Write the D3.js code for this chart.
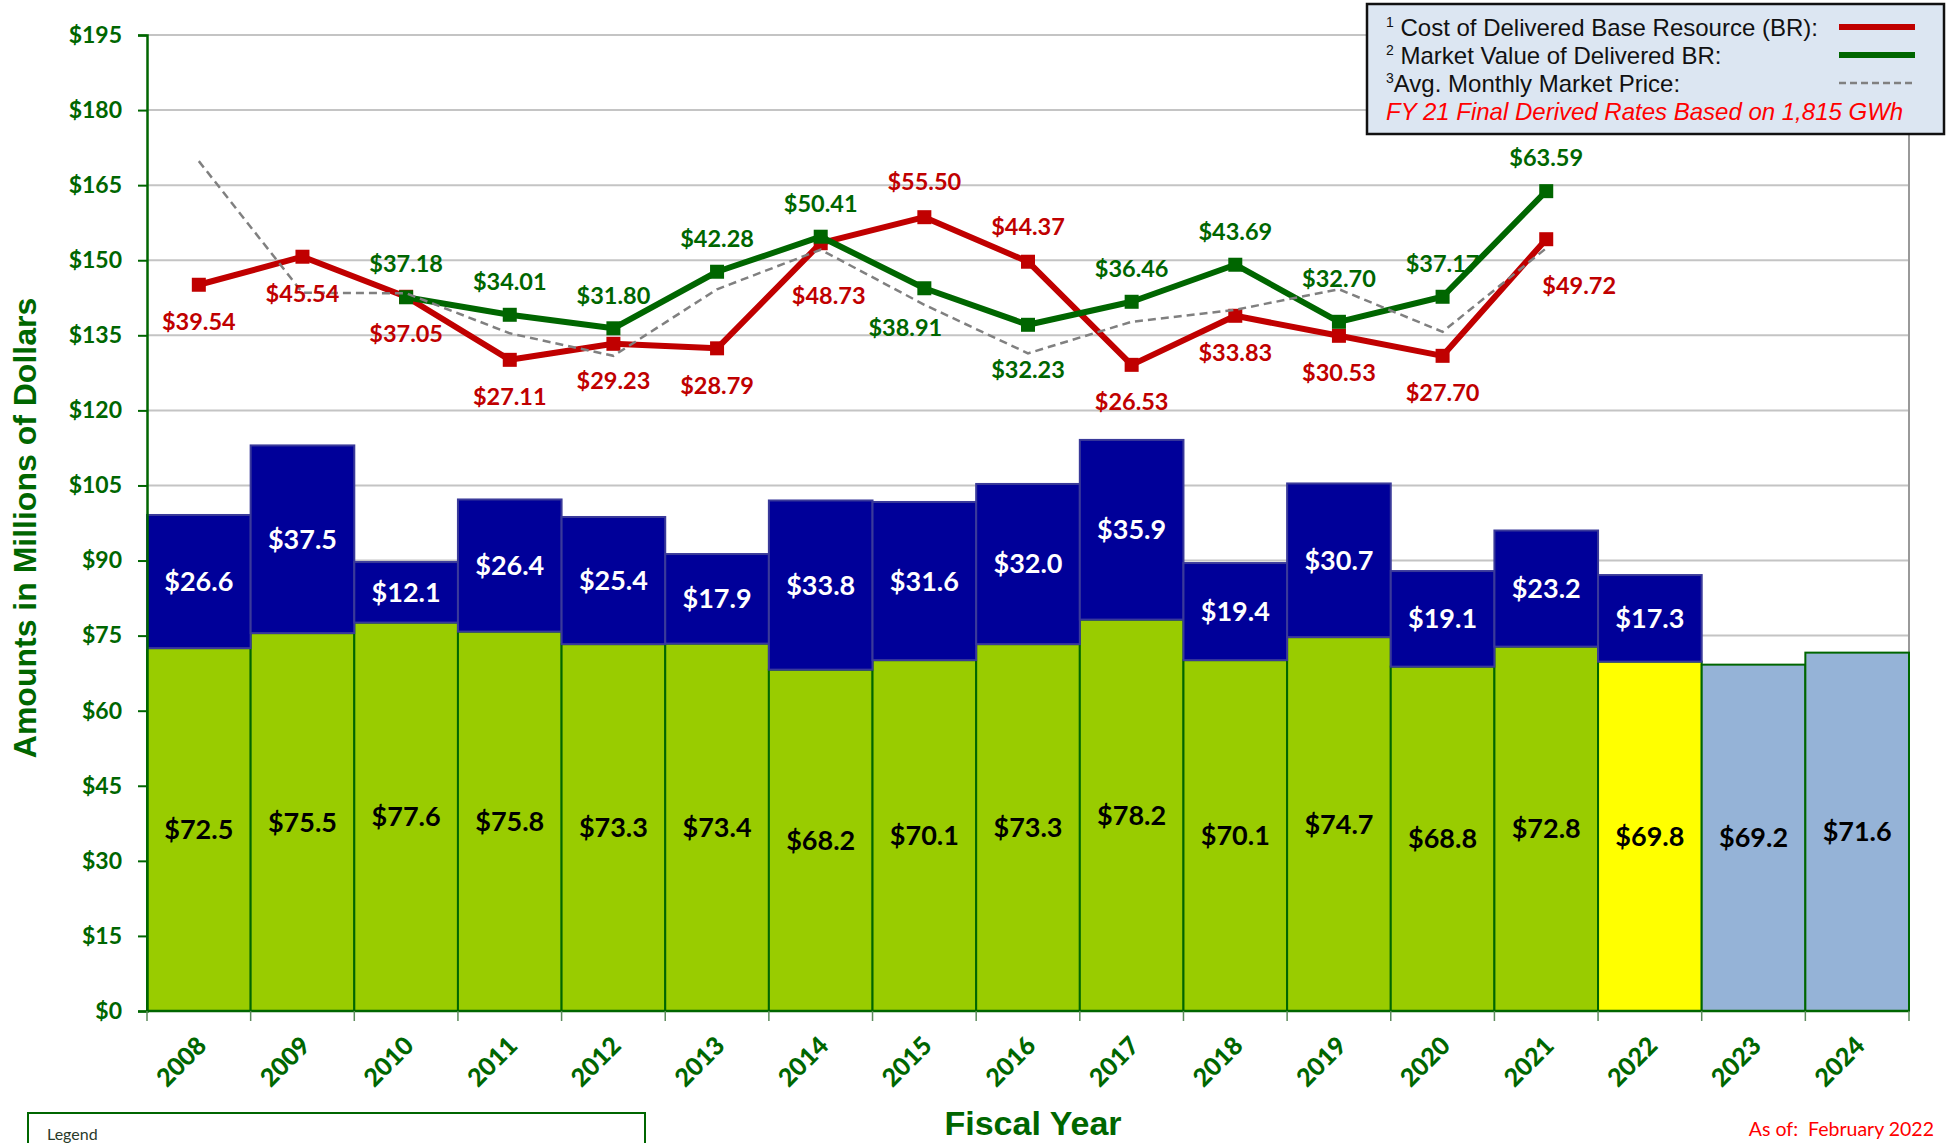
<!DOCTYPE html>
<html>
<head>
<meta charset="utf-8">
<script src="https://cdn.jsdelivr.net/npm/d3@7"></script>
<style>
body{margin:0;background:#fff;}
svg{display:block;}
</style>
</head>
<body>
<script>
// ---- data ----
var years = ["2008","2009","2010","2011","2012","2013","2014","2015","2016","2017","2018","2019","2020","2021","2022","2023","2024"];
var barKind = ["actual","actual","actual","actual","actual","actual","actual","actual","actual","actual","actual","actual","actual","actual","current","forecast","forecast"];
var baseCost = [72.5,75.5,77.6,75.8,73.3,73.4,68.2,70.1,73.3,78.2,70.1,74.7,68.8,72.8,69.8,69.2,71.6];
var topCost = [26.6,37.5,12.1,26.4,25.4,17.9,33.8,31.6,32.0,35.9,19.4,30.7,19.1,23.2,17.3,null,null];

var costYears = ["2008","2009","2010","2011","2012","2013","2014","2015","2016","2017","2018","2019","2020","2021"];
var costBR = [40.1,45.7,37.7,25.1,28.3,27.4,48.4,53.6,44.7,24.1,33.9,29.9,25.9,49.2];
var costLabels = ["$39.54","$45.54","$37.05","$27.11","$29.23","$28.79","$48.73","$55.50","$44.37","$26.53","$33.83","$30.53","$27.70","$49.72"];

var marketYears = ["2010","2011","2012","2013","2014","2015","2016","2017","2018","2019","2020","2021"];
var marketBR = [37.6,34.1,31.4,42.7,49.7,39.4,32.1,36.7,44.1,32.7,37.7,58.8];
var marketLabels = ["$37.18","$34.01","$31.80","$42.28","$50.41","$38.91","$32.23","$36.46","$43.69","$32.70","$37.17","$63.59"];

var avgPrice = [64.8,38.5,38.4,30.4,25.9,39.2,47.1,36.1,26.4,32.7,35.1,39.2,30.7,47.4];

var yTicks = [0,15,30,45,60,75,90,105,120,135,150,165,180,195];

// ---- layout ----
var W = 1952, H = 1143;
var pL = 147, pR = 1909, pT = 35, pB = 1011;
var green = "#006600", red = "#c00000";

var svg = d3.select("body").append("svg").attr("width",W).attr("height",H)
    .style("font-family","Lato, 'Open Sans', sans-serif");

var x = d3.scaleBand().domain(years).range([pL,pR]).padding(0);
var y = d3.scaleLinear().domain([0,195]).range([pB,pT]);
// lines sit on a secondary scale shifted against the bars
var y2 = d3.scaleLinear().domain([-105,90]).range([pB,pT]);

// gridlines
svg.append("g").selectAll("line").data(yTicks.slice(1)).join("line")
    .attr("x1",pL).attr("x2",pR)
    .attr("y1",d=>y(d)).attr("y2",d=>y(d))
    .attr("stroke","#c4c4c4").attr("stroke-width",2);
// right border of plot
svg.append("line").attr("x1",pR).attr("x2",pR).attr("y1",pT).attr("y2",pB)
    .attr("stroke","#999").attr("stroke-width",2);

// bars
var bars = svg.append("g");
bars.selectAll("rect.base").data(years).join("rect").attr("class","base")
    .attr("x",d=>x(d)).attr("width",x.bandwidth())
    .attr("y",(d,i)=>y(baseCost[i])).attr("height",(d,i)=>y(0)-y(baseCost[i]))
    .attr("fill",(d,i)=>barKind[i]=="actual" ? "#99cc00" : barKind[i]=="current" ? "#ffff00" : "#95b3d7")
    .attr("stroke",green).attr("stroke-width",2);
var topYears = years.filter((d,i)=>topCost[i]!=null);
bars.selectAll("rect.top").data(topYears).join("rect").attr("class","top")
    .attr("x",d=>x(d)).attr("width",x.bandwidth())
    .attr("y",(d,i)=>y(baseCost[i]+topCost[i])).attr("height",(d,i)=>y(baseCost[i])-y(baseCost[i]+topCost[i]))
    .attr("fill","#000099").attr("stroke","#3a3a9a").attr("stroke-width",2);

// bar labels
bars.selectAll("text.base").data(years).join("text").attr("class","base")
    .attr("x",d=>x(d)+x.bandwidth()/2).attr("y",(d,i)=>y(baseCost[i]/2))
    .attr("dy","0.35em").attr("text-anchor","middle")
    .attr("font-size",27).attr("font-weight","bold").attr("fill","#000")
    .text((d,i)=>"$"+d3.format(".1f")(baseCost[i]));
bars.selectAll("text.top").data(topYears).join("text").attr("class","top")
    .attr("x",d=>x(d)+x.bandwidth()/2).attr("y",(d,i)=>y(baseCost[i]+topCost[i]/2))
    .attr("dy","0.35em").attr("text-anchor","middle")
    .attr("font-size",27).attr("font-weight","bold").attr("fill","#fff")
    .text((d,i)=>"$"+d3.format(".1f")(topCost[i]));

// y axis
var yAxis = svg.append("g").attr("transform","translate("+pL+",0)")
    .call(d3.axisLeft(y).tickValues(yTicks).tickSize(9).tickPadding(16).tickFormat(d=>"$"+d));
yAxis.select(".domain").attr("stroke",green).attr("stroke-width",2.5);
yAxis.selectAll(".tick line").attr("stroke",green).attr("stroke-width",2);
yAxis.selectAll(".tick text").attr("fill",green).attr("font-size",23).attr("font-weight","bold")
    .style("font-family","Lato, sans-serif");

// x axis
var xAxis = svg.append("g").attr("transform","translate(0,"+pB+")");
xAxis.append("line").attr("x1",pL).attr("x2",pR).attr("stroke",green).attr("stroke-width",2.5);
xAxis.selectAll("line.tk").data(years.concat(["end"])).join("line").attr("class","tk")
    .attr("x1",(d,i)=>pL+i*x.bandwidth()).attr("x2",(d,i)=>pL+i*x.bandwidth())
    .attr("y1",0).attr("y2",10).attr("stroke","#5a8a5a").attr("stroke-width",1.5);
xAxis.selectAll("text").data(years).join("text")
    .attr("transform",d=>"translate("+(x(d)+x.bandwidth()/2+3)+",30) rotate(-45)")
    .attr("text-anchor","end").attr("dy","0.35em")
    .attr("font-size",25).attr("font-weight","900").attr("fill",green)
    .text(d=>d);

// lines
var costPts = costYears.map((d,i)=>[x(d)+x.bandwidth()/2, y2(costBR[i])]);
var marketPts = marketYears.map((d,i)=>[x(d)+x.bandwidth()/2, y2(marketBR[i])]);
var avgPts = costYears.map((d,i)=>[x(d)+x.bandwidth()/2, y2(avgPrice[i])]);
var line = d3.line();

svg.append("path").attr("d",line(costPts)).attr("fill","none").attr("stroke",red).attr("stroke-width",6).attr("stroke-linejoin","round");
svg.selectAll("rect.cm").data(costPts).join("rect").attr("class","cm")
    .attr("x",d=>d[0]-7).attr("y",d=>d[1]-7).attr("width",14).attr("height",14).attr("fill",red);
svg.append("path").attr("d",line(marketPts)).attr("fill","none").attr("stroke",green).attr("stroke-width",6).attr("stroke-linejoin","round");
svg.selectAll("rect.mm").data(marketPts).join("rect").attr("class","mm")
    .attr("x",d=>d[0]-7).attr("y",d=>d[1]-7).attr("width",14).attr("height",14).attr("fill",green);
svg.append("path").attr("d",line(avgPts)).attr("fill","none").attr("stroke","#808080").attr("stroke-width",2.5).attr("stroke-dasharray","8,5");

// line labels
var costAbove = ["2015","2016"];
var costNudge = {"2014":[8,16],"2021":[33,10]};
svg.selectAll("text.cl").data(costYears).join("text").attr("class","cl")
    .attr("x",(d,i)=>costPts[i][0]+(costNudge[d]?costNudge[d][0]:0))
    .attr("y",(d,i)=>costPts[i][1]+(costAbove.indexOf(d)>=0?-35:37)+(costNudge[d]?costNudge[d][1]:0))
    .attr("dy","0.35em").attr("text-anchor","middle")
    .attr("font-size",23.5).attr("font-weight","bold").attr("fill",red)
    .text((d,i)=>costLabels[i]);
var marketBelow = ["2015","2016"];
var marketNudge = {"2015":[-19,3],"2016":[0,8],"2019":[0,-10]};
svg.selectAll("text.ml").data(marketYears).join("text").attr("class","ml")
    .attr("x",(d,i)=>marketPts[i][0]+(marketNudge[d]?marketNudge[d][0]:0))
    .attr("y",(d,i)=>marketPts[i][1]+(marketBelow.indexOf(d)>=0?37:-33)+(marketNudge[d]?marketNudge[d][1]:0))
    .attr("dy","0.35em").attr("text-anchor","middle")
    .attr("font-size",23.5).attr("font-weight","bold").attr("fill",green)
    .text((d,i)=>marketLabels[i]);

// axis titles
svg.append("text").attr("transform","translate(36,528) rotate(-90)")
    .attr("text-anchor","middle").attr("font-size",32).attr("font-weight","bold").attr("fill",green)
    .style("font-family","'Liberation Sans', Arial, sans-serif")
    .text("Amounts in Millions of Dollars");
svg.append("text").attr("x",1033).attr("y",1135)
    .attr("text-anchor","middle").attr("font-size",34).attr("font-weight","bold").attr("fill",green)
    .style("font-family","'Liberation Sans', Arial, sans-serif")
    .text("Fiscal Year");

// top-right legend
var lg = svg.append("g").style("font-family","'Liberation Sans', Arial, sans-serif");
lg.append("rect").attr("x",1367).attr("y",4).attr("width",577).attr("height",130)
    .attr("fill","#dce6f2").attr("stroke","#111").attr("stroke-width",2.5);
var legendRows = [
  {sup:"1", txt:" Cost of Delivered Base Resource (BR):", col:red, dash:null},
  {sup:"2", txt:" Market Value of Delivered BR:", col:green, dash:null},
  {sup:"3", txt:"Avg. Monthly Market Price:", col:"#808080", dash:"7,4"}
];
legendRows.forEach(function(r,i){
  var t = lg.append("text").attr("x",1386).attr("y",36+i*28).attr("font-size",24).attr("fill","#111")
      .style("white-space","pre");
  t.append("tspan").attr("font-size",14).attr("dy",-9).text(r.sup);
  t.append("tspan").attr("dy",9).text(r.txt);
  lg.append("line").attr("x1",1839).attr("x2",1915).attr("y1",27+i*28).attr("y2",27+i*28)
    .attr("stroke",r.col).attr("stroke-width",r.dash?2.5:6).attr("stroke-dasharray",r.dash);
});
lg.append("text").attr("x",1386).attr("y",120).attr("font-size",24).attr("font-style","italic")
    .attr("fill","#ff0000").text("FY 21 Final Derived Rates Based on 1,815 GWh");

// bottom legend box and note
svg.append("rect").attr("x",28).attr("y",1113).attr("width",617).attr("height",60)
    .attr("fill","#fff").attr("stroke",green).attr("stroke-width",2);
svg.append("text").attr("x",47).attr("y",1140).attr("font-size",16).attr("fill","#2a3a2a").text("Legend");
svg.append("text").attr("x",1934).attr("y",1136).attr("text-anchor","end").attr("font-size",19.5)
    .attr("fill","#ff0000").style("white-space","pre").text("As of:  February 2022");
</script>
</body>
</html>
